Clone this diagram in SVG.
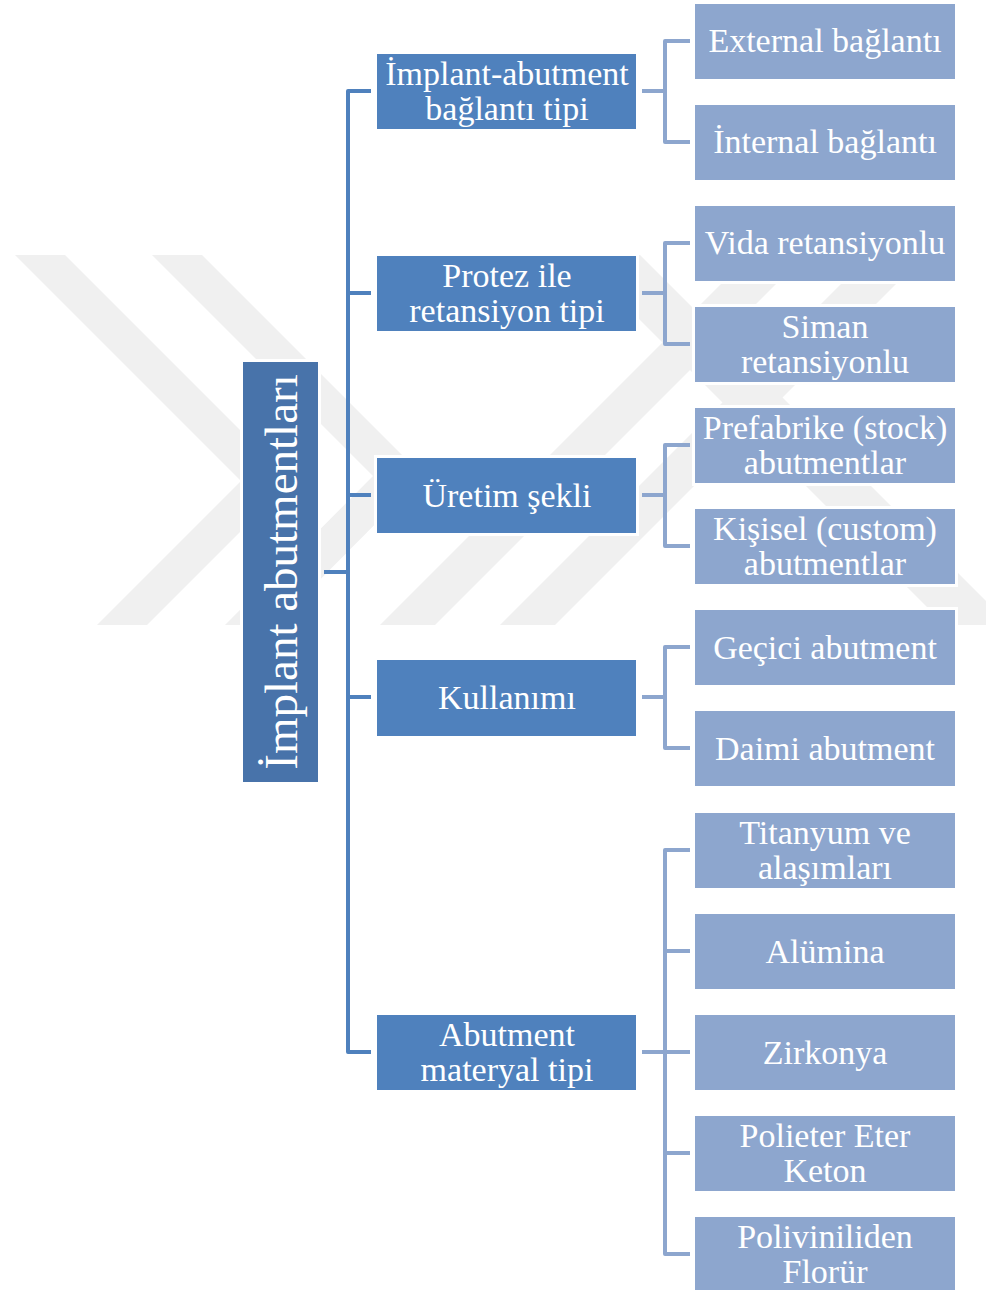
<svg xmlns="http://www.w3.org/2000/svg" width="986" height="1290" viewBox="0 0 986 1290">
<defs>
<style>
.wm{fill:#f0f0f0}
.halo{fill:#ffffff}
.root{fill:#4873AA}
.l1{fill:#4F81BD}
.l2{fill:#8DA6CE}
.t{font-family:"Liberation Serif","Times New Roman",serif;fill:#ffffff;text-anchor:middle}
.t1{font-size:34px}
.t0{font-size:47px}
.c1{fill:none;stroke:#4F81BD;stroke-width:4;stroke-linejoin:round}
.c2{fill:none;stroke:#8DA6CE;stroke-width:4;stroke-linejoin:round}
</style>
<clipPath id="wmclip"><rect x="0" y="255" width="986" height="370"/></clipPath>
</defs>
<rect width="986" height="1290" fill="#ffffff"/>
<g id="watermark" clip-path="url(#wmclip)">
<polygon class="wm" points="15,255 65,255 291,481 147,625 97,625 241,481"/>
<polygon class="wm" points="152,255 202,255 423,476 275,625 225,625 373,476"/>
<polygon class="wm" points="380,625 435,625 805,255 750,255"/>
<polygon class="wm" points="500,625 555,625 925,255 870,255"/>
<polygon class="wm" points="575,255 640,255 1010,625 945,625"/>
</g>
<g id="connectors">
<path class="c1" d="M324,572 H348 M371,91 H348 V1052 H371 M348,293 H371 M348,495 H371 M348,697 H371"/>
<path class="c2" d="M642,91 H665 M690,41 H665 V142 H690"/>
<path class="c2" d="M642,293 H665 M690,243 H665 V344 H690"/>
<path class="c2" d="M642,495 H665 M690,445 H665 V546 H690"/>
<path class="c2" d="M642,697 H665 M690,647 H665 V748 H690"/>
<path class="c2" d="M642,1052 H665 M690,850 H665 V1254 H690 M665,951 H690 M665,1052 H690 M665,1153 H690"/>
</g>
<g id="root">
<rect class="halo" x="240" y="359" width="81" height="426"/>
<rect class="root" x="243" y="362" width="75" height="420"/>
<text class="t t0" transform="translate(297,572) rotate(-90)" x="0" y="0">İmplant abutmentları</text>
</g>
<g id="n1">
<rect class="halo" x="374" y="51" width="265" height="81"/>
<rect class="l1" x="377" y="54" width="259" height="75"/>
<text class="t t1" x="507" y="85">İmplant-abutment</text>
<text class="t t1" x="507" y="120">bağlantı tipi</text>
</g>
<g id="n2">
<rect class="halo" x="374" y="253" width="265" height="81"/>
<rect class="l1" x="377" y="256" width="259" height="75"/>
<text class="t t1" x="507" y="287">Protez ile</text>
<text class="t t1" x="507" y="322">retansiyon tipi</text>
</g>
<g id="n3">
<rect class="halo" x="374" y="455" width="265" height="81"/>
<rect class="l1" x="377" y="458" width="259" height="75"/>
<text class="t t1" x="507" y="507">Üretim şekli</text>
</g>
<g id="n4">
<rect class="halo" x="374" y="657" width="265" height="82"/>
<rect class="l1" x="377" y="660" width="259" height="76"/>
<text class="t t1" x="507" y="709">Kullanımı</text>
</g>
<g id="n5">
<rect class="halo" x="374" y="1012" width="265" height="81"/>
<rect class="l1" x="377" y="1015" width="259" height="75"/>
<text class="t t1" x="507" y="1046">Abutment</text>
<text class="t t1" x="507" y="1081">materyal tipi</text>
</g>
<g id="n1a">
<rect class="halo" x="692" y="1" width="266" height="81"/>
<rect class="l2" x="695" y="4" width="260" height="75"/>
<text class="t t1" x="825" y="52">External bağlantı</text>
</g>
<g id="n1b">
<rect class="halo" x="692" y="102" width="266" height="81"/>
<rect class="l2" x="695" y="105" width="260" height="75"/>
<text class="t t1" x="825" y="153">İnternal bağlantı</text>
</g>
<g id="n2a">
<rect class="halo" x="692" y="203" width="266" height="81"/>
<rect class="l2" x="695" y="206" width="260" height="75"/>
<text class="t t1" x="825" y="254">Vida retansiyonlu</text>
</g>
<g id="n2b">
<rect class="halo" x="692" y="304" width="266" height="81"/>
<rect class="l2" x="695" y="307" width="260" height="75"/>
<text class="t t1" x="825" y="338">Siman</text>
<text class="t t1" x="825" y="373">retansiyonlu</text>
</g>
<g id="n3a">
<rect class="halo" x="692" y="405" width="266" height="81"/>
<rect class="l2" x="695" y="408" width="260" height="75"/>
<text class="t t1" x="825" y="439">Prefabrike (stock)</text>
<text class="t t1" x="825" y="474">abutmentlar</text>
</g>
<g id="n3b">
<rect class="halo" x="692" y="506" width="266" height="81"/>
<rect class="l2" x="695" y="509" width="260" height="75"/>
<text class="t t1" x="825" y="540">Kişisel (custom)</text>
<text class="t t1" x="825" y="575">abutmentlar</text>
</g>
<g id="n4a">
<rect class="halo" x="692" y="607" width="266" height="81"/>
<rect class="l2" x="695" y="610" width="260" height="75"/>
<text class="t t1" x="825" y="659">Geçici abutment</text>
</g>
<g id="n4b">
<rect class="halo" x="692" y="708" width="266" height="81"/>
<rect class="l2" x="695" y="711" width="260" height="75"/>
<text class="t t1" x="825" y="760">Daimi abutment</text>
</g>
<g id="n5a">
<rect class="l2" x="695" y="813" width="260" height="75"/>
<text class="t t1" x="825" y="844">Titanyum ve</text>
<text class="t t1" x="825" y="879">alaşımları</text>
</g>
<g id="n5b">
<rect class="l2" x="695" y="914" width="260" height="75"/>
<text class="t t1" x="825" y="963">Alümina</text>
</g>
<g id="n5c">
<rect class="l2" x="695" y="1015" width="260" height="75"/>
<text class="t t1" x="825" y="1064">Zirkonya</text>
</g>
<g id="n5d">
<rect class="l2" x="695" y="1116" width="260" height="75"/>
<text class="t t1" x="825" y="1147">Polieter Eter</text>
<text class="t t1" x="825" y="1182">Keton</text>
</g>
<g id="n5e">
<rect class="l2" x="695" y="1217" width="260" height="76"/>
<text class="t t1" x="825" y="1248">Poliviniliden</text>
<text class="t t1" x="825" y="1283">Florür</text>
</g>
</svg>
